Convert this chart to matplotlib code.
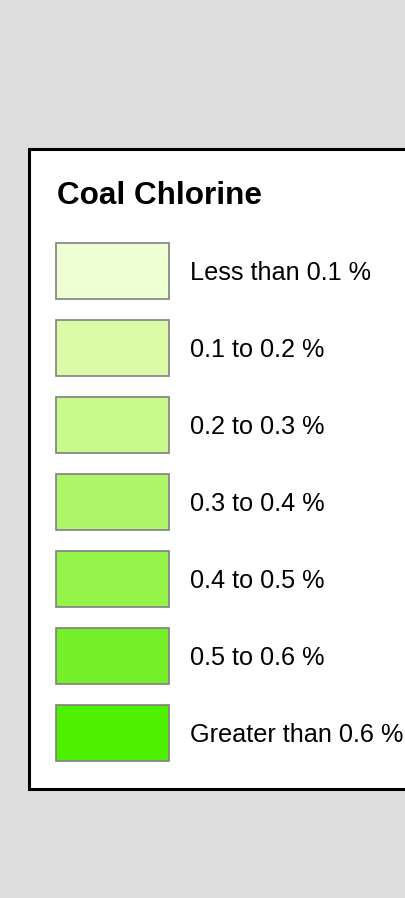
import matplotlib.pyplot as plt
from matplotlib.patches import Rectangle

# legend content
title = "Coal Chlorine"
labels = ["Less than 0.1 %", "0.1 to 0.2 %", "0.2 to 0.3 %", "0.3 to 0.4 %",
          "0.4 to 0.5 %", "0.5 to 0.6 %", "Greater than 0.6 %"]
colors = ["#EEFFD4", "#DBFBA8", "#C8F98A", "#AEF569", "#96F34A", "#74EF2A", "#4EEF00"]

plt.rcParams['font.family'] = ['Liberation Sans', 'DejaVu Sans']

fig = plt.figure(figsize=(4.05, 8.98), dpi=100, facecolor="#DEDEDE")
ax = fig.add_axes([0, 0, 1, 1])
ax.set_xlim(0, 405)
ax.set_ylim(898, 0)
ax.axis("off")

# white legend panel with black border (right edge runs off the picture)
ax.add_patch(Rectangle((28.5, 148.5), 400, 640, facecolor="white",
                       edgecolor="black", linewidth=2.2))

ax.text(57, 204, title, fontsize=22.7, fontweight="bold", ha="left",
        va="baseline", color="black")

top0, step, h = 243, 77, 56
for i, (lab, col) in enumerate(zip(labels, colors)):
    y = top0 + i * step
    ax.add_patch(Rectangle((55.5, y), 113.5, h, facecolor=col,
                           edgecolor="#808080", linewidth=1.2))
    ax.text(190, y + h / 2 + 9, lab, fontsize=18.2, ha="left",
            va="baseline", color="black")

fig.savefig("out.png", dpi=100, facecolor=fig.get_facecolor())
